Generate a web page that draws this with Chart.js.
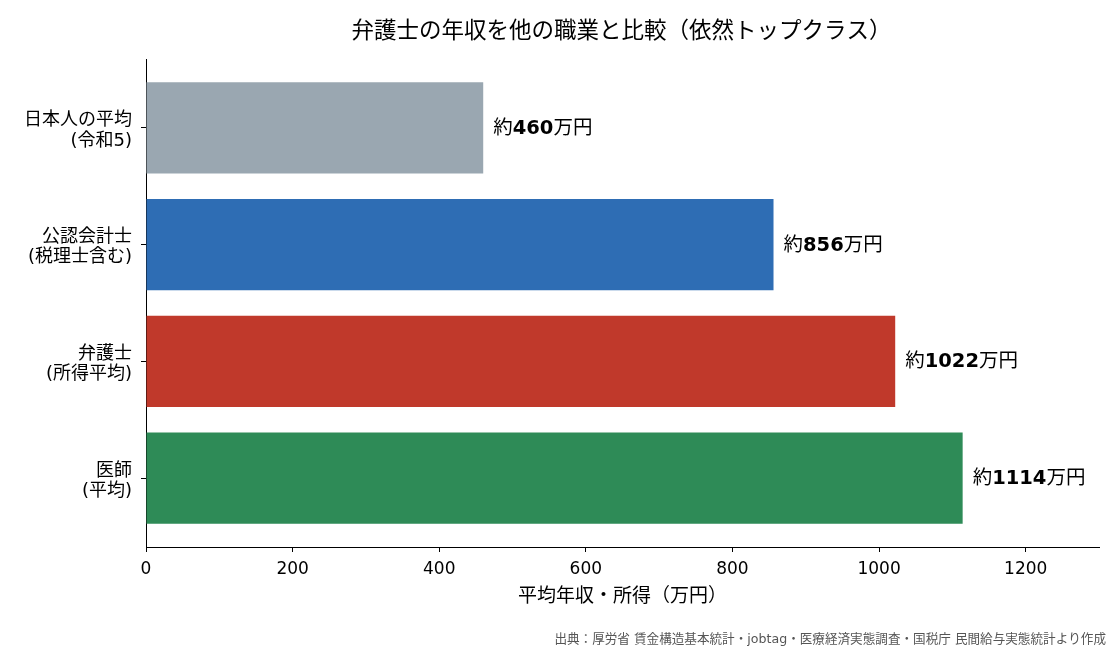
<!DOCTYPE html>
<html><head><meta charset="utf-8">
<script src="https://cdn.jsdelivr.net/npm/chart.js@4.4.1/dist/chart.umd.min.js"></script>
<style>html,body{margin:0;padding:0;background:#fff}#wrap{width:1118px;height:650px;position:relative}</style>
</head><body><div id="wrap"><canvas id="c" width="1118" height="650"></canvas></div>
<script>
const categories = [["日本人の平均","(令和5)"],["公認会計士","(税理士含む)"],["弁護士","(所得平均)"],["医師","(平均)"]];
const values = [460, 856, 1022, 1114];
const colors = ["#9AA7B1", "#2E6DB4", "#C0392B", "#2E8B57"];
const xTicks = [0, 200, 400, 600, 800, 1000, 1200];
const titleText = "弁護士の年収を他の職業と比較（依然トップクラス）";
const xTitle = "平均年収・所得（万円）";
const sourceText = "出典：厚労省 賃金構造基本統計・jobtag・医療経済実態調査・国税庁 民間給与実態統計より作成";

const FONT = '"DejaVu Sans", "Noto Sans CJK JP", sans-serif';
Chart.defaults.font.family = FONT;
Chart.defaults.color = "#000";

const overlay = {
  id: "overlay",
  afterDatasetsDraw(chart) {
    const ctx = chart.ctx;
    const meta = chart.getDatasetMeta(0);
    ctx.save();
    ctx.fillStyle = "#000";
    ctx.textBaseline = "middle";
    meta.data.forEach((bar, i) => {
      let x = bar.x + 10;
      const y = bar.y + 1;
      const parts = [["約", "normal"], [String(values[i]), "bold"], ["万円", "normal"]];
      parts.forEach(([t, w]) => {
        ctx.font = w + " 19.5px " + FONT;
        ctx.textAlign = "left";
        ctx.fillText(t, x, y);
        x += ctx.measureText(t).width;
      });
    });
    ctx.restore();
  },
  afterDraw(chart) {
    const ctx = chart.ctx;
    const a = chart.chartArea;
    ctx.save();
    ctx.fillStyle = "#000";
    ctx.textAlign = "center";
    ctx.textBaseline = "middle";
    ctx.font = "22.5px " + FONT;
    ctx.fillText(titleText, (a.left + a.right) / 2 - 1, 32);
    ctx.font = "19px " + FONT;
    ctx.fillText(xTitle, (a.left + a.right) / 2, 597);
    ctx.font = "12.6px " + FONT;
    ctx.fillStyle = "#555";
    ctx.textAlign = "right";
    ctx.fillText(sourceText, 1106, 640);
    ctx.restore();
  }
};

new Chart(document.getElementById("c"), {
  type: "bar",
  data: {
    datasets: [{
      data: values.map((v, i) => ({ x: v, y: i })),
      backgroundColor: colors,
      borderWidth: 0,
      barPercentage: 0.78,
      categoryPercentage: 1.0
    }]
  },
  options: {
    indexAxis: "y",
    responsive: false,
    animation: false,
    events: [],
    layout: { padding: { left: 0, top: 59, right: 19, bottom: 0 } },
    plugins: { legend: { display: false }, tooltip: { enabled: false } },
    scales: {
      x: {
        type: "linear",
        min: 0, max: 1300,
        afterBuildTicks(s) { s.ticks = xTicks.map(v => ({ value: v })); },
        afterFit(s) { s.height = 103; },
        grid: { display: true, drawOnChartArea: false, drawTicks: true, tickLength: 5, color: "#000" },
        border: { display: true, color: "#000", width: 1 },
        ticks: { font: { size: 17 }, padding: 7, color: "#000", maxRotation: 0, callback: (v) => String(v) }
      },
      y: {
        type: "linear",
        reverse: true,
        offset: false,
        bounds: "data",
        min: -0.59, max: 3.59,
        afterBuildTicks(s) { s.ticks = categories.map((c, i) => ({ value: i })); },
        afterFit(s) { s.width = 146; },
        grid: { display: true, offset: false, drawOnChartArea: false, drawTicks: true, tickLength: 5, color: "#000" },
        border: { display: true, color: "#000", width: 1 },
        ticks: {
          font: { size: 18, lineHeight: 1.12 }, padding: 9, color: "#000", labelOffset: 3,
          callback: (v) => categories[v] || ""
        }
      }
    }
  },
  plugins: [overlay]
});
</script></body></html>
